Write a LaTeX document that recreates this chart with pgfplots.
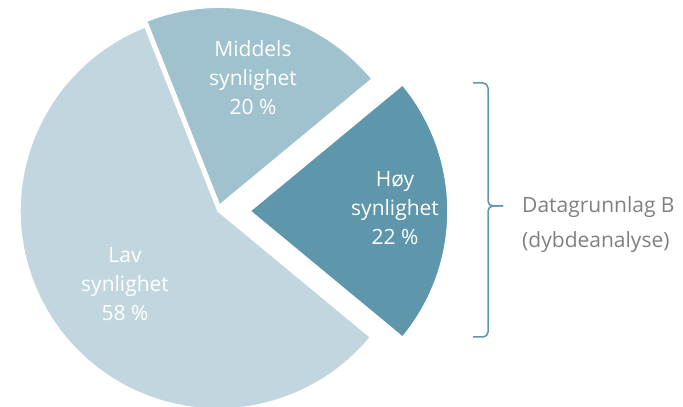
\documentclass[border=0pt]{standalone}
\usepackage{fontspec}
\setmainfont{Open Sans}
\usepackage{pgfplots}
\pgfplotsset{compat=1.18}
\usepackage{pgfplotstable}
\definecolor{LavC}{HTML}{C1D6DF}
\definecolor{MidC}{HTML}{A0C2CE}
\definecolor{HoyC}{HTML}{5E96AC}
\definecolor{BraceC}{HTML}{5D96AE}
\definecolor{GreyTxt}{HTML}{808080}

% one wedge per row: x,y = apex (px, y up), start angle, share in %
\pgfplotstableread{
x      y      start   pct   cls
218    196    111.6   58    lav
219.5  201.8  39.6    20    mid
250    196    -39.6   22    hoy
}\slices

\pgfdeclareplotmark{wedge}{%
  \pgfpathmoveto{\pgfpointorigin}%
  \pgfpathlineto{\pgfpointpolar{\sa}{198bp}}%
  \pgfpatharc{\sa}{\ea}{198bp}%
  \pgfpathclose
  \pgfusepathqfillstroke}

\begin{document}
\begin{tikzpicture}
\begin{axis}[
  scale only axis, width=683bp, height=407bp,
  xmin=0, xmax=683, ymin=0, ymax=407,
  hide axis, clip=false]
\addplot[scatter, only marks, mark=wedge,
  point meta=explicit symbolic,
  scatter/classes={
    lav={mark=wedge,draw=white,fill=LavC,line width=1.5bp},
    mid={mark=wedge,draw=white,fill=MidC,line width=1.5bp},
    hoy={mark=wedge,draw=white,fill=HoyC,line width=1.5bp}},
  visualization depends on={\thisrow{start} \as \sa},
  visualization depends on={\thisrow{start}+3.6*\thisrow{pct} \as \ea}]
  table[x=x, y=y, meta=cls] {\slices};

\coordinate (lavlbl) at (axis cs:125,122.5);
\coordinate (midlbl) at (axis cs:253,329);
\coordinate (hoylbl) at (axis cs:395,198.5);
\coordinate (sidelbl) at (axis cs:522,182);

\draw[BraceC, line width=1.5bp, rounded corners=5bp]
  (axis cs:473,324) -- (axis cs:488,324) -- (axis cs:488,201) -- (axis cs:503,201);
\draw[BraceC, line width=1.5bp, rounded corners=5bp]
  (axis cs:473,70) -- (axis cs:488,70) -- (axis cs:488,201) -- (axis cs:503,201);
\end{axis}

\begin{scope}[every node/.style={align=center, text=white, inner sep=0pt,
    font=\fontsize{21bp}{29bp}\selectfont}]
  \node at (lavlbl) {Lav\\synlighet\\58 \%};
  \node at (midlbl) {Middels\\synlighet\\20 \%};
  \node at (hoylbl) {Høy\\synlighet\\22 \%};
\end{scope}
\node[anchor=west, align=left, text=GreyTxt, inner sep=0pt,
  font=\fontsize{21bp}{35bp}\selectfont]
  at (sidelbl) {Datagrunnlag B\\(dybdeanalyse)};

\pgfresetboundingbox
\path[use as bounding box] (current axis.south west) rectangle (current axis.north east);
\end{tikzpicture}
\end{document}
